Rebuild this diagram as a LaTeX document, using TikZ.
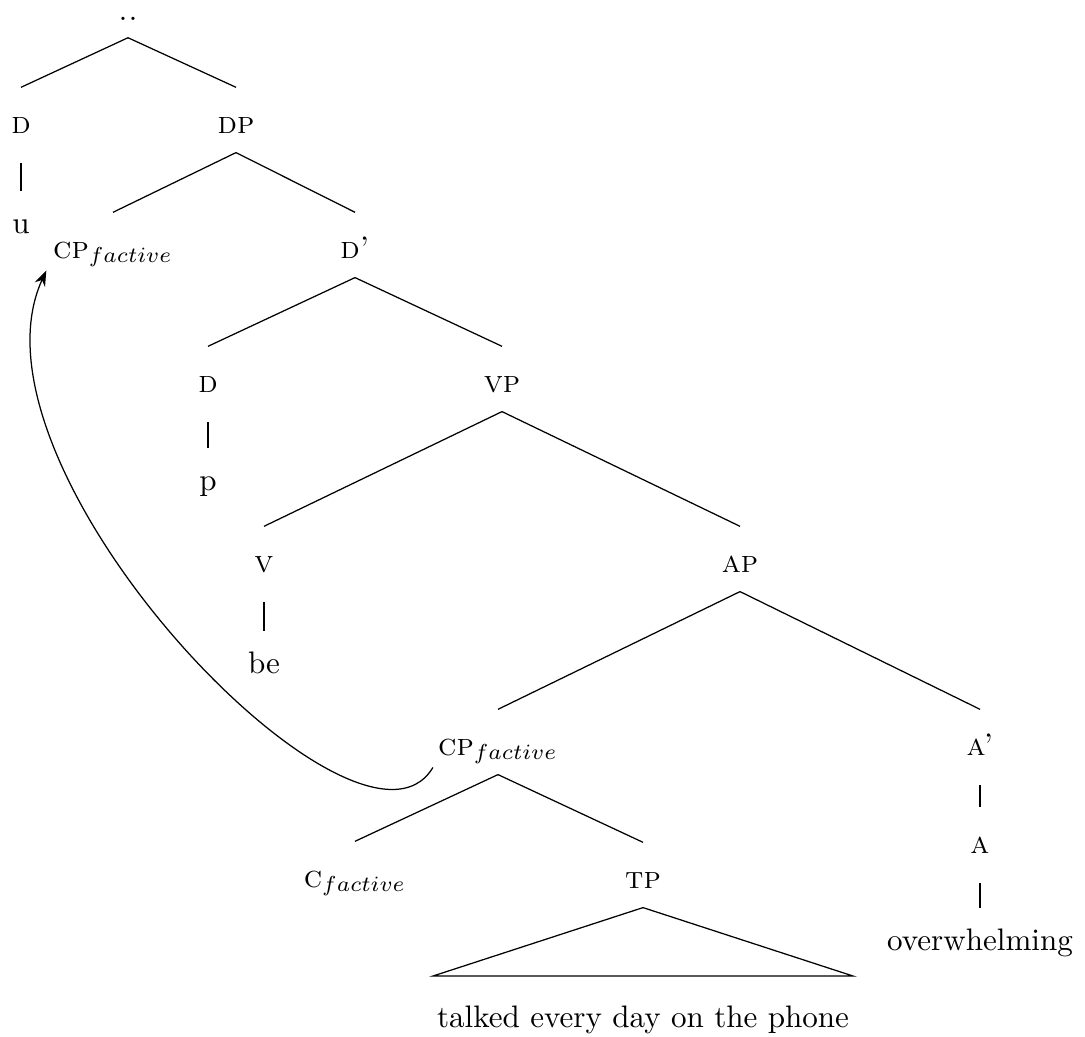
\documentclass[tikz,border=0pt]{standalone}
\usetikzlibrary{arrows.meta}

\begin{document}
\begin{tikzpicture}[x=0.0113cm,y=-0.0113cm,>={Stealth[length=5pt,width=3.6pt]},
  cat/.style={font=\scshape,anchor=base,inner sep=0pt,text height=14.5pt,text depth=6.1pt},
  word/.style={anchor=base,inner sep=0pt,text height=13.2pt,text depth=2pt},
  unary/.style={shorten <=3.5pt}]
  \useasboundingbox (0,0) rectangle (1085,1036);

  % category labels, placed at their baselines
  \node[cat,text height=1ex,text depth=5.5pt] (root) at (128,20) {..};
  \node[cat] (d1)    at (21,133)  {d};
  \node[cat] (dp)    at (236,133) {dp};
  \node[cat] (cpTop) at (113,258) {cp$_{factive}$};
  \node[cat] (dbar)  at (355,258) {d'};
  \node[cat] (d2)    at (208,392) {d};
  \node[cat] (vp)    at (502,392) {vp};
  \node[cat] (v)     at (264,572) {v};
  \node[cat] (ap)    at (740,572) {ap};
  \node[cat] (cpLow) at (498,755) {cp$_{factive}$};
  \node[cat] (abar)  at (980,755) {a'};
  \node[cat] (cf)    at (355,887) {c$_{factive}$};
  \node[cat] (tp)    at (643,888) {tp};
  \node[cat] (a)     at (980,853) {a};

  % terminals
  \node[word] (u)      at (21,233)  {u};
  \node[word] (p)      at (208,490) {p};
  \node[word] (be)     at (264,673) {be};
  \node[word] (ow)     at (980,950) {overwhelming};
  \node[word] (phrase) at (643,1027) {talked every day on the phone};

  % branches
  \foreach \a/\b in {root/d1,root/dp,dp/cpTop,dp/dbar,dbar/d2,dbar/vp,
                     vp/v,vp/ap,ap/cpLow,ap/abar,cpLow/cf,cpLow/tp}
    \draw (\a.south) -- (\b.north);
  \foreach \a/\b in {d1/u,d2/p,v/be,abar/a,a/ow}
    \draw[unary] (\a.south) -- (\b.north);

  % roof over the TP
  \coordinate (tl) at (433,976);
  \coordinate (tr) at (853,976);
  \draw (tp.south) -- (tl) -- (tr) -- cycle;

  % movement of the factive CP
  \draw[->] ([shift={(-1.5pt,-4pt)}]cpLow.base west)
    .. controls (360,890) and (-45,470) ..
    ([shift={(-2pt,-4pt)}]cpTop.base west);
\end{tikzpicture}
\end{document}
